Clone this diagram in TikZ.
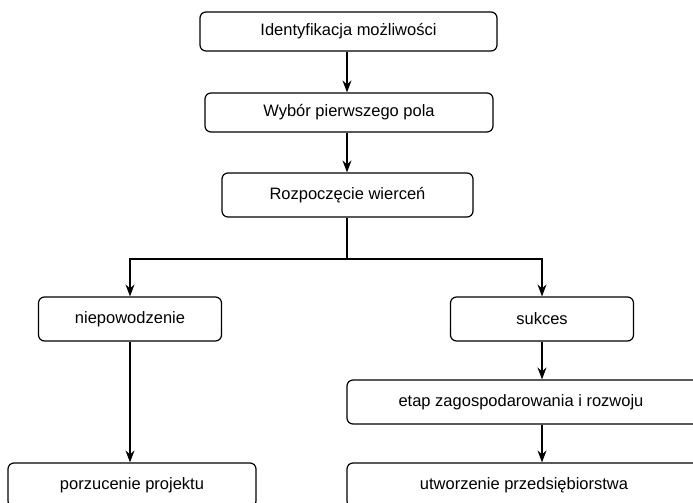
\documentclass[tikz,border=0pt]{standalone}
\usepackage{fontspec}
\setmainfont{Liberation Sans}
\usetikzlibrary{arrows.meta}

\begin{document}
\begin{tikzpicture}[x=1pt, y=-1pt,
    box/.style={draw, line width=1.2pt, rounded corners=6pt, inner sep=0pt,
        font=\fontsize{16.5}{20}\selectfont},
    arr/.style={line width=1.2pt, -{Stealth[length=12pt, width=9pt, inset=4pt]}}]
    \clip (0,0) rectangle (693,503);
    \node[box, minimum width=297pt, minimum height=39pt] (ident) at (348.5,31.5) {Identyfikacja możliwości};
    \node[box, minimum width=288pt, minimum height=39pt] (wybor) at (349,112.5) {Wybór pierwszego pola};
    \node[box, minimum width=251pt, minimum height=44pt] (rozp) at (347.5,195) {Rozpoczęcie wierceń};
    \node[box, minimum width=183pt, minimum height=44pt] (niep) at (130,319) {niepowodzenie};
    \node[box, minimum width=183pt, minimum height=44pt] (sukc) at (542,319) {sukces};
    \node[box, minimum width=248pt, minimum height=44pt] (porz) at (132,485) {porzucenie projektu};
    \node[box, minimum width=362pt, minimum height=44pt] (etap) at (528,402) {\hspace*{-14pt}etap zagospodarowania i rozwoju};
    \node[box, minimum width=354pt, minimum height=44pt] (utw) at (524,485) {utworzenie przedsiębiorstwa};
    \coordinate (split) at (347,259);
    \draw[arr] (ident.south -| split) -- (wybor.north -| split);
    \draw[arr] (wybor.south -| split) -- (rozp.north -| split);
    \draw[line width=1.2pt] (rozp.south -| split) -- (split);
    \draw[arr] (split) -| (niep.north);
    \draw[arr] (split) -| (sukc.north);
    \draw[arr] (niep.south) -- (niep.south |- porz.north);
    \draw[arr] (sukc.south) -- (sukc.south |- etap.north);
    \draw[arr] (etap.south -| sukc) -- (utw.north -| sukc);
\end{tikzpicture}
\end{document}
